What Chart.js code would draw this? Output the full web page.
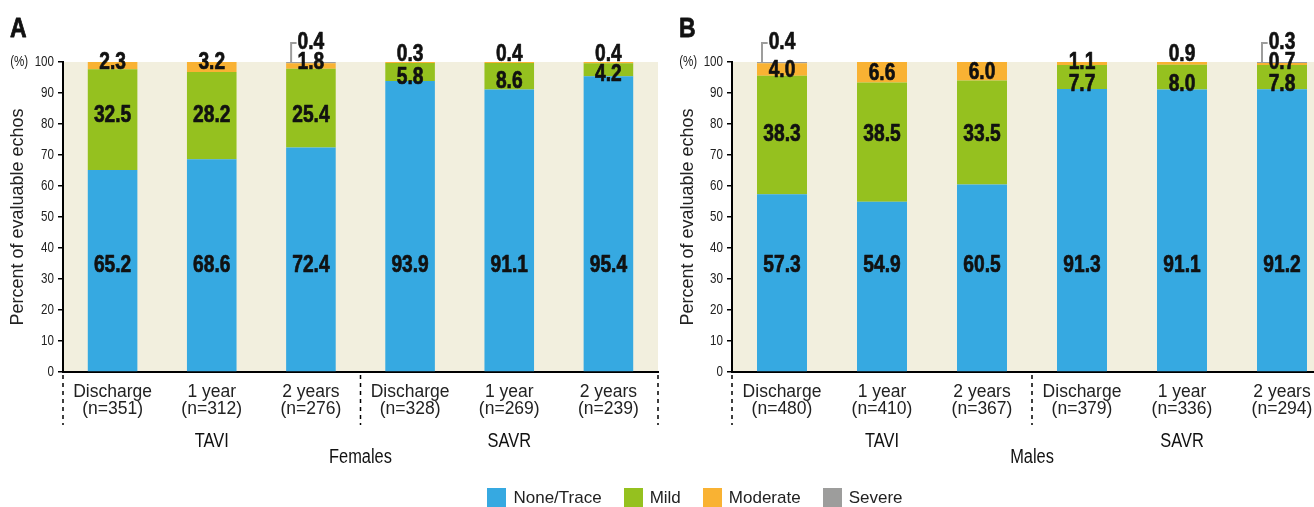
<!DOCTYPE html>
<html><head><meta charset="utf-8">
<script src="https://cdn.jsdelivr.net/npm/chart.js@4.4.1/dist/chart.umd.min.js"></script>
<style>
html,body{margin:0;padding:0;background:#fff;width:1314px;height:507px;overflow:hidden;position:relative;}
.panel{position:absolute;top:0;height:507px;}
#pa{left:0;width:660px;}
#pb{left:660px;width:680px;}
#legend{position:absolute;left:0;width:1390px;top:488px;display:flex;justify-content:center;gap:22px;font:17px "Liberation Sans",Arial,sans-serif;color:#222;line-height:19px;}
.item{display:flex;align-items:center;}
.sw{width:19px;height:19px;margin-right:7px;display:inline-block;}
</style></head><body>
<div class="panel" id="pa"><canvas id="ca" width="660" height="507"></canvas></div>
<div class="panel" id="pb"><canvas id="cb" width="680" height="507"></canvas></div>
<div id="legend"></div>
<script>
// ---------- data ----------
const timepoints = ["Discharge", "1 year", "2 years", "Discharge", "1 year", "2 years"];
const groups = ["TAVI", "SAVR"];
const groupSize = 3;
const seriesNames = ["None/Trace", "Mild", "Moderate", "Severe"];
const yTickLabels = ["0","10","20","30","40","50","60","70","80","90","(%)  100"];
const yTitle = "Percent of evaluable echos";

const femaleN = [351, 312, 276, 328, 269, 239];
const femaleNone = [65.2, 68.6, 72.4, 93.9, 91.1, 95.4];
const femaleMild = [32.5, 28.2, 25.4, 5.8, 8.6, 4.2];
const femaleModerate = [2.3, 3.2, 1.8, 0.3, 0.4, 0.4];
const femaleSevere = [0, 0, 0.4, 0, 0, 0];

const maleN = [480, 410, 367, 379, 336, 294];
const maleNone = [57.3, 54.9, 60.5, 91.3, 91.1, 91.2];
const maleMild = [38.3, 38.5, 33.5, 7.7, 8.0, 7.8];
const maleModerate = [4.0, 6.6, 6.0, 1.1, 0.9, 0.7];
const maleSevere = [0.4, 0, 0, 0, 0, 0.3];

// ---------- styles ----------
const colors = ["#36A9E1", "#95C11F", "#F9B233", "#9D9D9C"];
const BG = "#F2EFDE";
const SANS = '"Liberation Sans",Arial,sans-serif';
const COND = 0.8; // horizontal condensing factor

function condText(ctx, txt, cx, by, font, sx, heavy) {
  ctx.save();
  ctx.font = font;
  ctx.translate(cx, by);
  ctx.scale(sx, 1);
  ctx.fillText(txt, 0, 0);
  if (heavy) {
    ctx.strokeStyle = ctx.fillStyle;
    ctx.lineWidth = heavy;
    ctx.lineJoin = 'round';
    ctx.strokeText(txt, 0, 0);
  }
  ctx.restore();
}
function drawNum(ctx, txt, cx, cy, size) {
  condText(ctx, txt, cx, cy + 0.358 * size, `bold ${size}px ${SANS}`, COND, 0.7);
}

const annot = {
  id: 'annot',
  beforeDraw(chart) {
    const {ctx, chartArea: a} = chart;
    ctx.save();
    ctx.fillStyle = BG;
    ctx.fillRect(a.left, a.top, a.right - a.left, a.bottom - a.top);
    ctx.restore();
    const ys = chart.scales.y;
    if (!ys._condPatched) {
      const orig = ys.drawLabels.bind(ys);
      ys.drawLabels = function (area) {
        const c = this.ctx;
        const rx = this.right - chart.options.scales.y.grid.tickLength - chart.options.scales.y.ticks.padding;
        c.save();
        c.translate(rx, 0);
        c.scale(0.8, 1);
        c.translate(-rx, 0);
        orig(area);
        c.restore();
      };
      ys._condPatched = true;
    }
  },
  afterDraw(chart) {
    const {ctx, chartArea: a, scales: {x, y}} = chart;
    const o = chart.options.plugins.annot;
    const ds = chart.data.datasets;
    const n = chart.data.labels.length;
    const y100 = y.getPixelForValue(100);
    const S = 24;
    ctx.save();
    ctx.fillStyle = '#111';
    ctx.textAlign = 'center';
    ctx.textBaseline = 'alphabetic';
    for (let j = 0; j < n; j++) {
      const m0 = chart.getDatasetMeta(0).data[j];
      const cx = m0.x;
      const vNone = ds[0].data[j], vMild = ds[1].data[j], vMod = ds[2].data[j], vSev = ds[3].data[j];
      drawNum(ctx, vNone.toFixed(1), cx, y.getPixelForValue(o.noneLevel), S);
      const m1 = chart.getDatasetMeta(1).data[j];
      if (vMild >= 15) drawNum(ctx, vMild.toFixed(1), cx, y.getPixelForValue(o.mildLevel), S);
      else drawNum(ctx, vMild.toFixed(1), cx, (m1.y + m1.base) / 2 + o.smallMildShift, S);
      const m2 = chart.getDatasetMeta(2).data[j];
      let my;
      if (vMod >= 3.5) my = (m2.y + m2.base) / 2 - 1;
      else if (vMod < 1 && vSev === 0) my = y100 - 10;
      else my = y100 - 2;
      drawNum(ctx, vMod.toFixed(1), cx, my, S);
      if (vSev > 0) {
        const m3 = chart.getDatasetMeta(3).data[j];
        const txt = vSev.toFixed(1);
        const ly = y100 - 22;
        drawNum(ctx, txt, cx, ly, S);
        ctx.font = `bold ${S}px ${SANS}`;
        const tw = ctx.measureText(txt).width * COND;
        const bx = cx - m3.width / 2 + 5;
        ctx.save();
        ctx.strokeStyle = colors[3];
        ctx.lineWidth = 2;
        ctx.beginPath();
        ctx.moveTo(bx, m3.y);
        ctx.lineTo(bx, ly + 3);
        ctx.lineTo(cx - tw / 2 - 1, ly + 3);
        ctx.stroke();
        ctx.restore();
      }
    }
    ctx.restore();

    // dashed separators
    ctx.save();
    ctx.strokeStyle = '#000';
    ctx.lineWidth = 1.5;
    ctx.setLineDash([4, 4]);
    const seps = [a.left];
    for (let g = 1; g < groups.length; g++) {
      const k = g * groupSize;
      seps.push((x.getPixelForValue(k - 1) + x.getPixelForValue(k)) / 2);
    }
    seps.push(a.right);
    seps.forEach(sx => {
      ctx.beginPath();
      ctx.moveTo(sx, a.bottom + 3);
      ctx.lineTo(sx, a.bottom + 53);
      ctx.stroke();
    });
    ctx.restore();

    // group labels & panel title
    ctx.save();
    ctx.fillStyle = '#111';
    ctx.textAlign = 'center';
    ctx.textBaseline = 'alphabetic';
    const gfont = `20px ${SANS}`;
    groups.forEach((g, gi) => {
      let sum = 0;
      for (let k = 0; k < groupSize; k++) sum += x.getPixelForValue(gi * groupSize + k);
      condText(ctx, g, sum / groupSize, a.bottom + 68 + 7.2, gfont, 0.82);
    });
    condText(ctx, o.panelTitle, (a.left + a.right) / 2, a.bottom + 84 + 7.2, gfont, 0.82);
    ctx.textAlign = 'left';
    condText(ctx, o.letter, o.letterX, 37, `bold 28px ${SANS}`, 0.82, 0.8);
    ctx.restore();
  }
};

function makeChart(id, cfg) {
  const labels = timepoints.map((t, i) => [t, `(n=${cfg.nValues[i]})`]);
  const series = [cfg.none, cfg.mild, cfg.moderate, cfg.severe];
  const datasets = series.map((d, i) => ({
    label: seriesNames[i], data: d, backgroundColor: colors[i],
    borderWidth: 0, barPercentage: 0.5, categoryPercentage: 1.0
  }));
  return new Chart(document.getElementById(id), {
    type: 'bar',
    data: {labels, datasets},
    plugins: [annot],
    options: {
      responsive: false, animation: false,
      layout: {padding: {top: 62, right: cfg.padRight, left: 0, bottom: 0}},
      plugins: {
        legend: {display: false}, tooltip: {enabled: false},
        annot: {panelTitle: cfg.panelTitle, letter: cfg.letter, letterX: cfg.letterX, noneLevel: 35,
                mildLevel: cfg.mildLevel, smallMildShift: cfg.smallMildShift}
      },
      scales: {
        x: {
          stacked: true,
          afterFit(s) { s.height = 135; },
          grid: {display: false, drawTicks: false},
          border: {display: true, color: '#000', width: 2},
          ticks: {padding: 12, color: '#222', autoSkip: false, maxRotation: 0,
                  font: {family: SANS, size: 17.5, lineHeight: 0.97}}
        },
        y: {
          stacked: true, min: 0, max: 100,
          afterFit(s) { s.width = cfg.axisWidth; },
          grid: {display: true, drawOnChartArea: false, drawTicks: true, tickLength: 5, color: '#000', lineWidth: 1.5},
          border: {display: true, color: '#000', width: 2},
          ticks: {stepSize: 10, padding: 4, color: '#222', font: {family: SANS, size: 14.5},
                  callback: (v, i) => yTickLabels[i]},
          title: {display: true, text: yTitle, color: '#222', font: {family: SANS, size: 18},
                  padding: {top: cfg.titlePad, bottom: 0}}
        }
      }
    }
  });
}

makeChart('ca', {nValues: femaleN, none: femaleNone, mild: femaleMild, moderate: femaleModerate, severe: femaleSevere,
  panelTitle: 'Females', letter: 'A', letterX: 10, axisWidth: 63, padRight: 2, titlePad: 7, mildLevel: 83.5, smallMildShift: 3});
makeChart('cb', {nValues: maleN, none: maleNone, mild: maleMild, moderate: maleModerate, severe: maleSevere,
  panelTitle: 'Males', letter: 'B', letterX: 19, axisWidth: 72, padRight: 8, titlePad: 17, mildLevel: 77.4, smallMildShift: 5});

// legend
const lg = document.getElementById('legend');
seriesNames.forEach((s, i) => {
  const it = document.createElement('div'); it.className = 'item';
  const sw = document.createElement('span'); sw.className = 'sw'; sw.style.background = colors[i];
  const tx = document.createElement('span'); tx.textContent = s;
  it.appendChild(sw); it.appendChild(tx); lg.appendChild(it);
});
</script>
</body></html>
